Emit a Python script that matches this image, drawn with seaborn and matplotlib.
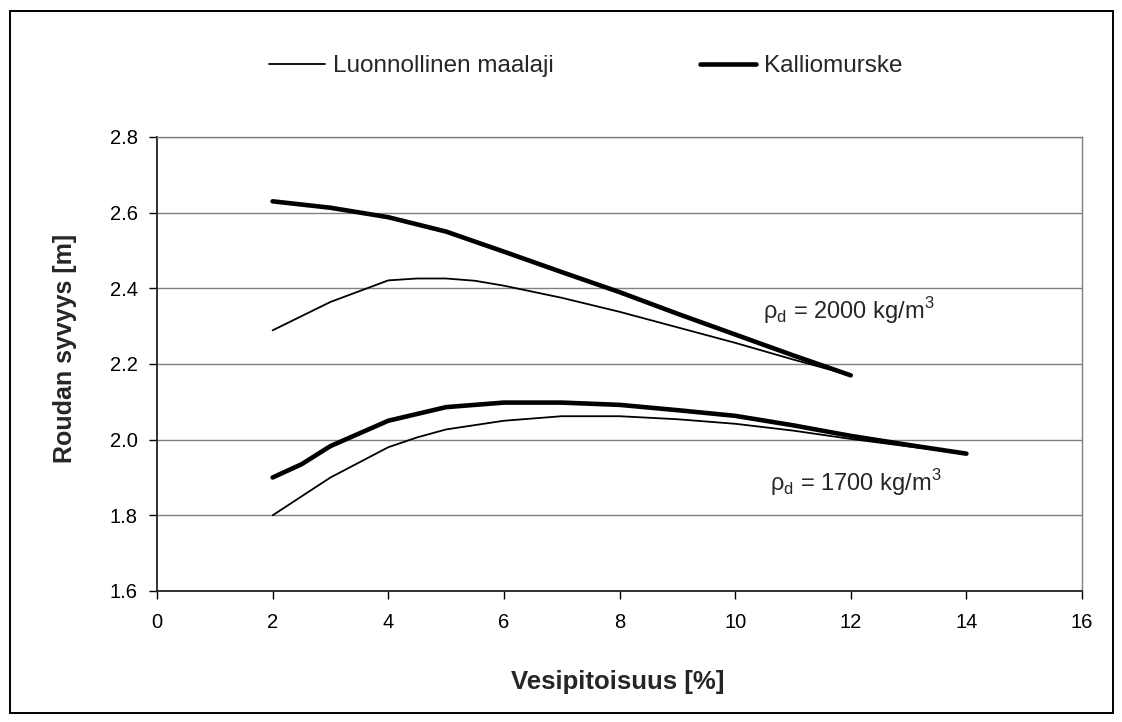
import matplotlib
matplotlib.use("Agg")
import matplotlib.pyplot as plt
from matplotlib.lines import Line2D
from matplotlib.patches import Rectangle
import numpy as np
import pandas as pd
import seaborn as sns

# Roudan syvyys vesipitoisuuden funktiona, kaksi kuivairtotiheyttä
nat_2000_x = [2, 3, 4, 4.5, 5, 5.5, 6, 7, 8, 9, 10, 11, 12]
nat_2000_y = [2.289, 2.364, 2.421, 2.426, 2.426, 2.420, 2.407, 2.375, 2.338, 2.297, 2.256, 2.212, 2.170]

rock_2000_x = [2, 3, 4, 5, 6, 7, 8, 9, 10, 11, 12]
rock_2000_y = [2.630, 2.613, 2.588, 2.550, 2.497, 2.443, 2.390, 2.333, 2.278, 2.223, 2.170]

nat_1700_x = [2, 2.5, 3, 4, 4.5, 5, 6, 7, 8, 9, 10, 11, 12, 13, 14]
nat_1700_y = [1.800, 1.850, 1.900, 1.980, 2.006, 2.027, 2.050, 2.062, 2.062, 2.054, 2.042, 2.024, 2.002, 1.982, 1.963]

rock_1700_x = [2, 2.5, 3, 4, 5, 6, 7, 8, 9, 10, 11, 12, 13, 14]
rock_1700_y = [1.900, 1.935, 1.983, 2.050, 2.086, 2.098, 2.098, 2.092, 2.078, 2.063, 2.038, 2.010, 1.986, 1.963]

materials = ["Luonnollinen maalaji", "Kalliomurske"]
x_label = "Vesipitoisuus [%]"
y_label = "Roudan syvyys [m]"
y_ticks = [1.6, 1.8, 2.0, 2.2, 2.4, 2.6, 2.8]
x_ticks = [0, 2, 4, 6, 8, 10, 12, 14, 16]
note_2000 = "ρ$_\\mathregular{d}$ = 2000 kg/m$^\\mathregular{3}$"
note_1700 = "ρ$_\\mathregular{d}$ = 1700 kg/m$^\\mathregular{3}$"

curves = [
    ("n2000", materials[0], nat_2000_x, nat_2000_y),
    ("k2000", materials[1], rock_2000_x, rock_2000_y),
    ("n1700", materials[0], nat_1700_x, nat_1700_y),
    ("k1700", materials[1], rock_1700_x, rock_1700_y),
]
df = pd.concat(
    [pd.DataFrame({"curve": c, "Materiaali": m, "x": xs, "y": ys}) for c, m, xs, ys in curves],
    ignore_index=True,
)

sns.set_theme(style="white")
plt.rcParams["font.family"] = ["Liberation Sans", "DejaVu Sans"]
plt.rcParams["mathtext.fontset"] = "custom"
plt.rcParams["mathtext.rm"] = "Liberation Sans"

fig = plt.figure(figsize=(11.22, 7.22), dpi=100)
ax = fig.add_axes([157 / 1122, 1 - 591 / 722, 925 / 1122, 454 / 722])

widths = {materials[0]: 1.3, materials[1]: 3.3}
sns.lineplot(
    data=df, x="x", y="y", units="curve", estimator=None,
    size="Materiaali", sizes=widths, color="black",
    legend=False, ax=ax, solid_capstyle="round", sort=False,
)

ax.set_xlim(0, 16)
ax.set_ylim(1.6, 2.8)
ax.set_xticks(x_ticks)
ax.set_yticks(y_ticks)
ax.set_xticklabels([str(t) for t in x_ticks])
ax.set_yticklabels([f"{t:.1f}" for t in y_ticks])
ax.tick_params(axis="both", labelsize=14.5, colors="black", length=6, width=1.0,
               direction="out", pad=8)
ax.tick_params(axis="x", bottom=True, pad=10)
ax.tick_params(axis="y", left=True)

ax.grid(axis="y", color="#808080", linewidth=1.0)
ax.set_axisbelow(True)
for side in ["top", "right"]:
    ax.spines[side].set_color("#808080")
    ax.spines[side].set_linewidth(1.0)
for side in ["left", "bottom"]:
    ax.spines[side].set_color("#222222")
    ax.spines[side].set_linewidth(1.3)

ax.set_xlabel(x_label, fontsize=18.5, fontweight="bold")
ax.set_ylabel(y_label, fontsize=18, fontweight="bold")
ax.xaxis.set_label_coords(0.498, -0.174)
ax.yaxis.set_label_coords(-0.086, 0.535)

ax.text(10.48, 2.342, note_2000, fontsize=17, va="center", ha="left")
ax.text(10.6, 1.887, note_1700, fontsize=17, va="center", ha="left")

handles = [Line2D([], [], color="black", lw=widths[m], solid_capstyle="round") for m in materials]
fig.legend(handles, materials, loc="center", bbox_to_anchor=(0.522, 1 - 66 / 722),
           ncol=2, frameon=False, fontsize=17.5, handlelength=2.3,
           handletextpad=0.35, columnspacing=6.0)

fig.patches.append(Rectangle((10 / 1122, 1 - 713 / 722), 1103 / 1122, 702 / 722,
                             transform=fig.transFigure, fill=False,
                             edgecolor="black", linewidth=1.4))

fig.savefig("out.png", dpi=100, facecolor="white")
